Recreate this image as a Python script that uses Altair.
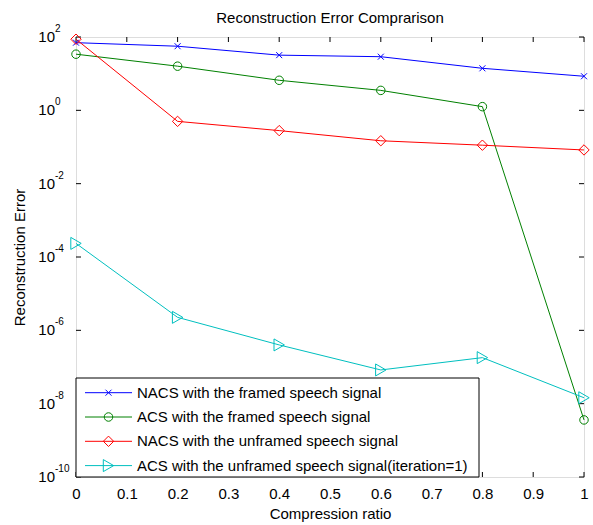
import altair as alt
import pandas as pd

# ---- data ----
x_vals = [0.0, 0.2, 0.4, 0.6, 0.8, 1.0]
nacs_framed = [70, 56, 32, 29, 14, 8.5]
acs_framed = [34, 16, 6.6, 3.5, 1.26, 3.6e-9]
nacs_unframed = [87, 0.5, 0.28, 0.148, 0.112, 0.083]
acs_unframed = [2.35e-4, 2.26e-6, 4.0e-7, 8.3e-8, 1.8e-7, 1.45e-8]

series_names = [
    "NACS with the framed speech signal",
    "ACS with the framed speech signal",
    "NACS with the unframed speech signal",
    "ACS with the unframed speech signal(iteration=1)",
]
series_values = [nacs_framed, acs_framed, nacs_unframed, acs_unframed]

x_ticks = [0, 0.1, 0.2, 0.3, 0.4, 0.5, 0.6, 0.7, 0.8, 0.9, 1.0]
y_ticks = [1e2, 1e0, 1e-2, 1e-4, 1e-6, 1e-8, 1e-10]
y_exponents = ["2", "0", "-2", "-4", "-6", "-8", "-10"]
chart_title = ["Reconstruction Error Comprarison"]

# ---- styling ----
FONT = "Liberation Sans"
X_PATH = "M-1,-1L1,1M-1,1L1,-1"
colors = ["#0000ff", "#008000", "#ff0000", "#00bfbf"]
shapes = [X_PATH, "circle", "diamond", "triangle-right"]
sizes = [36, 144, 169, 169]
W, H = 508, 440

rows = []
for name, vals in zip(series_names, series_values):
    for xv, yv in zip(x_vals, vals):
        rows.append({"series": name, "x": xv, "y": yv})
df = pd.DataFrame(rows)

xscale = alt.Scale(domain=[0, 1], nice=False)
yscale = alt.Scale(type="log", domain=[1e-10, 1e2], nice=False)
cscale = alt.Scale(domain=series_names, range=colors)
shscale = alt.Scale(domain=series_names, range=shapes)
szscale = alt.Scale(domain=series_names, range=sizes)

xaxis = alt.Axis(values=x_ticks, format=".1~f", ticks=False, domain=False, grid=False,
                 labelFont=FONT, labelFontSize=15, labelColor="black", labelPadding=9,
                 labelFlush=False, labelOverlap=False,
                 title="Compression ratio", titleFont=FONT, titleFontSize=15,
                 titleFontWeight="normal", titleColor="black", titlePadding=5)
yaxis = alt.Axis(labels=False, ticks=False, domain=False, grid=False,
                 title="Reconstruction Error", titleFont=FONT, titleFontSize=15,
                 titleFontWeight="normal", titleColor="black", titlePadding=49)

base = alt.Chart(df)
lines = base.mark_line(strokeWidth=1).encode(
    x=alt.X("x:Q", scale=xscale, axis=xaxis),
    y=alt.Y("y:Q", scale=yscale, axis=yaxis),
    color=alt.Color("series:N", scale=cscale, legend=None),
    detail="series:N",
)
points = base.mark_point(filled=False, strokeWidth=1, opacity=1).encode(
    x=alt.X("x:Q", scale=xscale),
    y=alt.Y("y:Q", scale=yscale),
    color=alt.Color("series:N", scale=cscale, legend=None),
    shape=alt.Shape("series:N", scale=shscale, legend=None),
    size=alt.Size("series:N", scale=szscale, legend=None),
)

xt = pd.DataFrame({"x": x_ticks})
yt = pd.DataFrame({"y": y_ticks, "exp": y_exponents, "base": ["10"] * len(y_ticks)})

tick_top = alt.Chart(xt).mark_rule(color="black", strokeWidth=1).encode(
    x=alt.X("x:Q", scale=xscale), y=alt.value(0), y2=alt.value(5))
tick_bottom = alt.Chart(xt).mark_rule(color="black", strokeWidth=1).encode(
    x=alt.X("x:Q", scale=xscale), y=alt.value(H - 5), y2=alt.value(H))
tick_left = alt.Chart(yt).mark_rule(color="black", strokeWidth=1).encode(
    y=alt.Y("y:Q", scale=yscale), x=alt.value(0), x2=alt.value(5))
tick_right = alt.Chart(yt).mark_rule(color="black", strokeWidth=1).encode(
    y=alt.Y("y:Q", scale=yscale), x=alt.value(W - 5), x2=alt.value(W))

ylab_base = alt.Chart(yt).mark_text(align="right", baseline="middle", font=FONT,
                                    fontSize=15, color="black").encode(
    y=alt.Y("y:Q", scale=yscale), x=alt.value(-21), text="base:N")
ylab_exp = alt.Chart(yt).mark_text(align="left", baseline="middle", font=FONT,
                                   fontSize=10, color="black", dy=-8).encode(
    y=alt.Y("y:Q", scale=yscale), x=alt.value(-21), text="exp:N")

title_mark = alt.Chart(pd.DataFrame({"t": chart_title})).mark_text(
    align="center", baseline="alphabetic", font=FONT, fontSize=15, color="black").encode(
    x=alt.value(W / 2), y=alt.value(-14.5), text="t:N")

# ---- legend drawn inside the plot ----
box = alt.Chart(pd.DataFrame({"k": [0]})).mark_rect(
    fill="white", stroke="black", strokeWidth=1).encode(
    x=alt.value(0), x2=alt.value(403), y=alt.value(341), y2=alt.value(440))

leg = alt.Chart(pd.DataFrame({"series": series_names, "idx": list(range(4))})).transform_calculate(
    ly="355.7 + 24.3 * datum.idx", lx1="9", lx2="56", mx="32.5", tx="61")
leg_lines = leg.mark_rule(strokeWidth=1).encode(
    x=alt.X("lx1:Q", scale=None), x2="lx2:Q", y=alt.Y("ly:Q", scale=None),
    color=alt.Color("series:N", scale=cscale, legend=None))
leg_points = leg.mark_point(filled=False, strokeWidth=1, opacity=1).encode(
    x=alt.X("mx:Q", scale=None), y=alt.Y("ly:Q", scale=None),
    color=alt.Color("series:N", scale=cscale, legend=None),
    shape=alt.Shape("series:N", scale=shscale, legend=None),
    size=alt.Size("series:N", scale=szscale, legend=None))
leg_text = leg.mark_text(align="left", baseline="middle", font=FONT, fontSize=15,
                         color="black").encode(
    x=alt.X("tx:Q", scale=None), y=alt.Y("ly:Q", scale=None), text="series:N")

chart = alt.layer(
    tick_top, tick_bottom, tick_left, tick_right,
    lines, points, ylab_base, ylab_exp, title_mark,
    box, leg_lines, leg_points, leg_text,
).properties(
    width=W, height=H,
    padding={"left": 76, "top": 37, "right": 9, "bottom": 48},
    autosize=alt.AutoSizeParams(type="none"),
).configure_view(
    stroke="black", strokeWidth=1, fill="white"
).configure(background="white")

chart.save("out.html", embed_options={"renderer": "svg", "actions": False})
